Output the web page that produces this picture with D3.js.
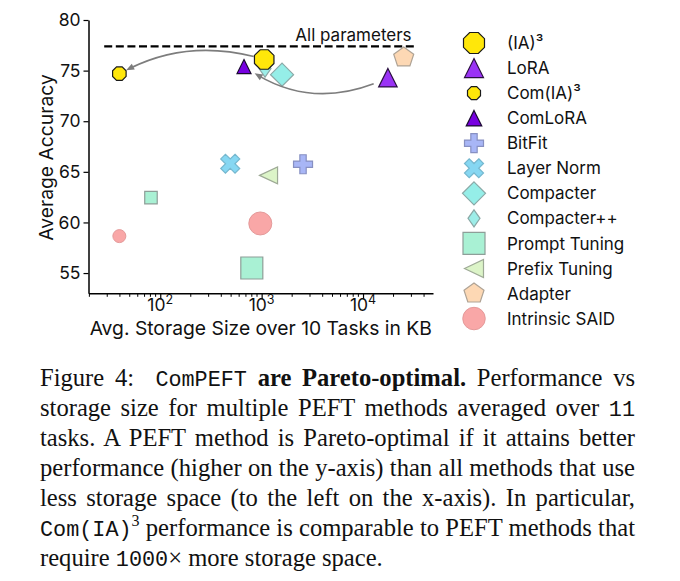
<!DOCTYPE html>
<html><head><meta charset="utf-8">
<script src="https://cdn.jsdelivr.net/npm/d3@7"></script>
<style>
html,body{margin:0;padding:0;background:#fff}
body{width:680px;height:581px;overflow:hidden;position:relative}
svg{position:absolute;left:0;top:0}
#cap{position:absolute;left:40px;top:363px;width:596px;font-family:'Liberation Serif','Times New Roman',serif;font-size:24.6px;line-height:30px;color:#111}
#cap .ln{white-space:nowrap;height:30px}
#cap .ln > span.inner{display:inline-block;white-space:nowrap}
#cap .tt{font-family:'Liberation Mono','DejaVu Sans Mono',monospace;font-size:21.8px}
#cap sup{font-size:16px;line-height:0;vertical-align:0;position:relative;top:-10px}
</style></head>
<body>
<svg id="chart" width="680" height="581"></svg>
<div id="cap">
<div class="ln"><span class="inner">Figure 4:&nbsp; <span class="tt">ComPEFT</span> <b>are Pareto-optimal.</b> Performance vs</span></div>
<div class="ln"><span class="inner">storage size for multiple PEFT methods averaged over <span class="tt">11</span></span></div>
<div class="ln"><span class="inner">tasks. A PEFT method is Pareto-optimal if it attains better</span></div>
<div class="ln"><span class="inner">performance (higher on the y-axis) than all methods that use</span></div>
<div class="ln"><span class="inner">less storage space (to the left on the x-axis). In particular,</span></div>
<div class="ln"><span class="inner"><span class="tt">Com(IA)</span><sup>3</sup> performance is comparable to PEFT methods that</span></div>
<div class="ln last"><span class="inner">require <span class="tt">1000</span>× more storage space.</span></div>
</div>
<script>
// ---------------- data ----------------
const methods = ["(IA)³","LoRA","Com(IA)³","ComLoRA","BitFit","Layer Norm","Compacter","Compacter++","Prompt Tuning","Prefix Tuning","Adapter","Intrinsic SAID"];
const pointMethod  = ["Compacter++","(IA)³","LoRA","Com(IA)³","ComLoRA","BitFit","Layer Norm","Compacter","Prompt Tuning","Prompt Tuning","Prefix Tuning","Adapter","Intrinsic SAID","Intrinsic SAID"];
const pointVariant = ["large","large","large","small","small","large","large","large","small","large","large","large","small","large"];
const storageKB    = [1080, 1060, 17600, 39.5, 670, 2560, 490, 1590, 81, 800, 1170, 25200, 39.5, 970];
const avgAccuracy  = [75.2, 76.1, 74.3, 74.7, 75.4, 65.75, 65.8, 74.6, 62.45, 55.5, 64.65, 76.3, 58.65, 59.9];
const allParamsAccuracy = 77.4;
const allParamsLabel = "All parameters";
const arrowFrom = ["(IA)³","LoRA"];
const arrowTo   = ["Com(IA)³","ComLoRA"];
const xMajorTicks = [100, 1000, 10000];
const xTickExponents = ["2","3","4"];
const yTicks = [55, 60, 65, 70, 75, 80];
const xTitle = "Avg. Storage Size over 10 Tasks in KB";
const yTitle = "Average Accuracy";

// ---------------- caption justification ----------------
(function(){
  const W = 595;
  document.querySelectorAll("#cap .ln").forEach(div => {
    if (div.classList.contains("last")) return;
    const inner = div.querySelector(".inner");
    const w = inner.getBoundingClientRect().width;
    const n = (inner.textContent.match(/[ \u00A0]/g) || []).length;
    if (n > 0) inner.style.wordSpacing = ((W - w) / n) + "px";
  });
})();

// ---------------- styles ----------------
const FONT = "Inter, 'DejaVu Sans', sans-serif";
const style = {
  "(IA)³":        {shape:"octagon",  fill:"#FFE70A", stroke:"#1a1a1a", sw:1.2, large:[19.5,19.5], legend:[21,21]},
  "LoRA":         {shape:"triUp",    fill:"#9A33F5", stroke:"#2a1040", sw:1.2, large:[18.5,18.5], legend:[19,19]},
  "Com(IA)³":     {shape:"octagon",  fill:"#FFE70A", stroke:"#1a1a1a", sw:1.2, small:[13.5,13.5], legend:[13,13]},
  "ComLoRA":      {shape:"triUp",    fill:"#7700E0", stroke:"#1a0a30", sw:1.2, small:[14,14], legend:[15.5,15.5]},
  "BitFit":       {shape:"plus",     fill:"#A8B6F6", stroke:"#8790C2", sw:1.2, large:[19,19], legend:[19,19]},
  "Layer Norm":   {shape:"x",        fill:"#86D7F2", stroke:"#76B8CF", sw:1.2, large:[19,19], legend:[19,19]},
  "Compacter":    {shape:"diamond",  fill:"#95EEE8", stroke:"#8AA8A6", sw:1.2, large:[23,23], legend:[23,23]},
  "Compacter++":  {shape:"diamond",  fill:"#9DEDE8", stroke:"#8AA8A6", sw:1.2, large:[12,17], legend:[12,17]},
  "Prompt Tuning":{shape:"square",   fill:"#A9F1D4", stroke:"#8E9E98", sw:1.2, large:[22,22], small:[12.5,12.5], legend:[22,22]},
  "Prefix Tuning":{shape:"triLeft",  fill:"#DCF4C8", stroke:"#9EAA96", sw:1.2, large:[18,17], legend:[19,18]},
  "Adapter":      {shape:"pentagon", fill:"#FDD8B4", stroke:"#AFA395", sw:1.2, large:[20,20], legend:[20,20]},
  "Intrinsic SAID":{shape:"circle",  fill:"#F9A7A7", stroke:"#E49A9A", sw:1.0, large:[23,23], small:[13,13], legend:[22.5,22.5]}
};

function shapePath(kind, w, h){
  const r = w/2, pts = [];
  if (kind === "circle") {
    return `M${-r},0A${r},${r} 0 1,0 ${r},0A${r},${r} 0 1,0 ${-r},0Z`;
  }
  if (kind === "octagon") {
    const R = r/Math.cos(Math.PI/8);
    for (let k=0;k<8;k++){const a=Math.PI/8+k*Math.PI/4; pts.push([R*Math.cos(a),R*Math.sin(a)]);}
  } else if (kind === "triUp") {
    pts.push([0,-h/2],[w/2,h/2],[-w/2,h/2]);
  } else if (kind === "triLeft") {
    pts.push([-w/2,0],[w/2,-h/2],[w/2,h/2]);
  } else if (kind === "diamond") {
    pts.push([0,-h/2],[w/2,0],[0,h/2],[-w/2,0]);
  } else if (kind === "square") {
    pts.push([-w/2,-h/2],[w/2,-h/2],[w/2,h/2],[-w/2,h/2]);
  } else if (kind === "pentagon") {
    const R = w/(2*Math.sin(2*Math.PI/5));
    for (let k=0;k<5;k++){const a=-Math.PI/2+k*2*Math.PI/5; pts.push([R*Math.cos(a),R*Math.sin(a)]);}
  } else if (kind === "plus" || kind === "x") {
    let a, t;
    if (kind === "plus") { a = r; t = w/6; }
    else { a = r*Math.SQRT2/1.33; t = a*0.33; }
    const base = [[-t,-a],[t,-a],[t,-t],[a,-t],[a,t],[t,t],[t,a],[-t,a],[-t,t],[-a,t],[-a,-t],[-t,-t]];
    const ang = kind === "x" ? Math.PI/4 : 0, c=Math.cos(ang), s=Math.sin(ang);
    base.forEach(([x,y])=>pts.push([x*c-y*s, x*s+y*c]));
  }
  return "M" + pts.map(p=>p[0].toFixed(2)+","+p[1].toFixed(2)).join("L") + "Z";
}

// ---------------- layout ----------------
const svg = d3.select("#chart");
const x = d3.scaleLog().domain([19.6, 49000]).range([88.5, 433]);
const y = d3.scaleLinear().domain([53, 80]).range([293.3, 20]);

// dashed "All parameters" line
svg.append("line")
  .attr("x1", x(28)).attr("x2", x(33000))
  .attr("y1", y(allParamsAccuracy)).attr("y2", y(allParamsAccuracy))
  .attr("stroke", "#000").attr("stroke-width", 2.3).attr("stroke-dasharray", "8,3.6");
svg.append("text")
  .attr("x", x(33000) - 4).attr("y", y(allParamsAccuracy) - 5)
  .attr("text-anchor", "end").attr("font-family", FONT).attr("font-size", 17).attr("fill", "#111")
  .text(allParamsLabel);

// axes
const yAxis = svg.append("g").attr("transform", `translate(${x.range()[0]},0)`)
  .call(d3.axisLeft(y).tickValues(yTicks).tickSize(5).tickPadding(3).tickSizeOuter(0));
yAxis.select(".domain").attr("stroke", "#000").attr("stroke-width", 1.5);
yAxis.selectAll(".tick line").attr("stroke", "#000").attr("stroke-width", 1.2);
yAxis.selectAll(".tick text").attr("font-family", FONT).attr("font-size", 17.5).attr("fill", "#111");

const xAxis = svg.append("g").attr("transform", `translate(0,${y.range()[0]})`)
  .call(d3.axisBottom(x).tickValues(xMajorTicks).tickSize(6).tickSizeOuter(0).tickFormat(() => ""));
xAxis.select(".domain").attr("stroke", "#000").attr("stroke-width", 1.5);
xAxis.selectAll(".tick line").attr("stroke", "#000").attr("stroke-width", 1.2);
const minor = x.ticks().filter(v => !xMajorTicks.includes(v));
xAxis.selectAll(".minor").data(minor).enter().append("line")
  .attr("x1", d => x(d)).attr("x2", d => x(d)).attr("y1", 0).attr("y2", 3.5)
  .attr("stroke", "#000").attr("stroke-width", 1);
xMajorTicks.forEach((v, i) => {
  const t = xAxis.append("text").attr("x", x(v)).attr("y", 17.5)
    .attr("text-anchor", "middle").attr("font-family", FONT).attr("font-size", 17.5).attr("fill", "#111");
  t.append("tspan").text("10");
  t.append("tspan").attr("dy", -7).attr("font-size", 12.5).text(xTickExponents[i]);
});

svg.append("text").attr("x", (x.range()[0] + x.range()[1]) / 2).attr("y", 334.5)
  .attr("text-anchor", "middle").attr("font-family", FONT).attr("font-size", 19.3).attr("fill", "#111")
  .text(xTitle);
svg.append("text").attr("transform", `translate(53,157.5) rotate(-90)`)
  .attr("text-anchor", "middle").attr("font-family", FONT).attr("font-size", 19.3).attr("fill", "#111")
  .text(yTitle);

// points
const points = pointMethod.map((m, i) => ({method: m, variant: pointVariant[i], kb: storageKB[i], acc: avgAccuracy[i]}));
svg.append("g").selectAll("path").data(points).enter().append("path")
  .attr("transform", d => `translate(${x(d.kb)},${y(d.acc)})`)
  .attr("d", d => { const s = style[d.method], sz = s[d.variant]; return shapePath(s.shape, sz[0], sz[1]); })
  .attr("fill", d => style[d.method].fill)
  .attr("stroke", d => style[d.method].stroke)
  .attr("stroke-width", d => style[d.method].sw)
  .attr("stroke-linejoin", "miter");

// curved arrows (matplotlib arc3 style)
const arrowRad = [0.21, -0.29], shrinkA = [10.8, 15.5], shrinkB = [7.6, 12.6];
function pos(m){ const p = points.find(q => q.method === m); return [x(p.kb), y(p.acc)]; }
function qb(P0,P1,P2,t){ const u=1-t; return [u*u*P0[0]+2*u*t*P1[0]+t*t*P2[0], u*u*P0[1]+2*u*t*P1[1]+t*t*P2[1]]; }
function findT(P0,P1,P2,ref,dist,fromStart){
  let lo = fromStart?0:0.5, hi = fromStart?0.5:1;
  for (let k=0;k<40;k++){
    const mid=(lo+hi)/2, p=qb(P0,P1,P2,mid), d=Math.hypot(p[0]-ref[0],p[1]-ref[1]);
    if (fromStart) { if (d<dist) lo=mid; else hi=mid; }
    else { if (d<dist) hi=mid; else lo=mid; }
  }
  return (lo+hi)/2;
}
arrowFrom.forEach((from, i) => {
  const S = pos(from), E = pos(arrowTo[i]);
  const mx=(S[0]+E[0])/2, my=(S[1]+E[1])/2, dx=E[0]-S[0], dy=E[1]-S[1], f=arrowRad[i];
  const C = [mx - f*dy, my + f*dx];
  const t0 = findT(S,C,E,S,shrinkA[i],true), t1 = findT(S,C,E,E,shrinkB[i],false);
  const Q0 = qb(S,C,E,t0), Q2 = qb(S,C,E,t1);
  const u0=1-t0,u1=1-t1;
  const Q1 = [u0*u1*S[0]+(u0*t1+t0*u1)*C[0]+t0*t1*E[0], u0*u1*S[1]+(u0*t1+t0*u1)*C[1]+t0*t1*E[1]];
  const tx=Q2[0]-Q1[0], ty=Q2[1]-Q1[1], tl=Math.hypot(tx,ty), ux=tx/tl, uy=ty/tl;
  const hl=8, hw=3.3;
  const B=[Q2[0]-ux*hl, Q2[1]-uy*hl];
  svg.append("path")
    .attr("d", `M${Q0[0]},${Q0[1]}Q${Q1[0]},${Q1[1]} ${Q2[0]-ux*4},${Q2[1]-uy*4}`)
    .attr("fill","none").attr("stroke","#7d7d7d").attr("stroke-width",1.7);
  svg.append("path")
    .attr("d", `M${Q2[0]},${Q2[1]}L${B[0]-uy*hw},${B[1]+ux*hw}L${B[0]+uy*hw},${B[1]-ux*hw}Z`)
    .attr("fill","#7d7d7d");
});

// legend
const lg = svg.append("g");
methods.forEach((m, i) => {
  const cy = 43 + i*25.05, s = style[m];
  lg.append("path").attr("transform", `translate(474,${cy})`)
    .attr("d", shapePath(s.shape, s.legend[0], s.legend[1]))
    .attr("fill", s.fill).attr("stroke", s.stroke).attr("stroke-width", s.sw);
  lg.append("text").attr("x", 507).attr("y", cy).attr("dy", "0.36em")
    .attr("font-family", FONT).attr("font-size", 17).attr("fill", "#111").text(m);
});
</script>
</body></html>
